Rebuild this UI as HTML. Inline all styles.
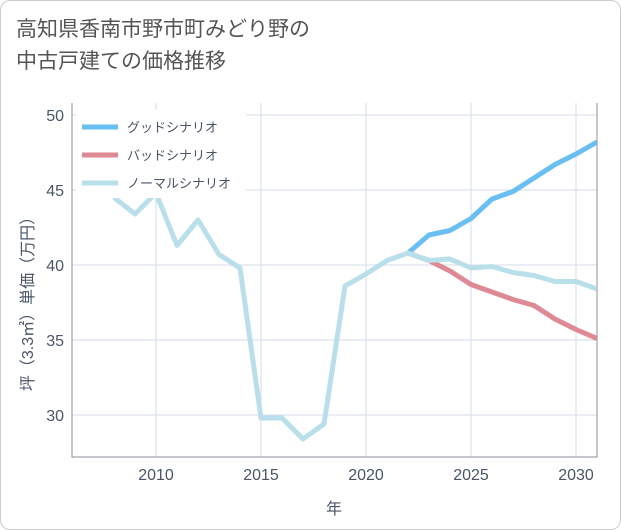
<!DOCTYPE html>
<html><head><meta charset="utf-8"><style>
body{margin:0;background:#fff;font-family:"Liberation Sans","Noto Sans CJK JP",sans-serif;}
#wrap{position:relative;width:621px;height:530px;}
#frame{position:absolute;left:0;top:0;width:619px;height:528px;border:1px solid #ccc;border-radius:10px;}
#title{position:absolute;left:16px;top:14px;font-size:21px;line-height:32px;color:#555;}
</style></head><body>
<div id="wrap">
<div id="frame"></div>
<div id="title">高知県香南市野市町みどり野の<br>中古戸建ての価格推移</div>
<svg id="chart" width="621" height="530" style="position:absolute;left:0;top:0"></svg>
</div>
<script>
const years=[2008,2009,2010,2011,2012,2013,2014,2015,2016,2017,2018,2019,2020,2021,2022,2023,2024,2025,2026,2027,2028,2029,2030,2031];
const normalValues=[44.5,43.4,44.8,41.3,43.0,40.7,39.8,29.8,29.8,28.4,29.4,38.6,39.4,40.3,40.8,40.3,40.4,39.8,39.9,39.5,39.3,38.9,38.9,38.4];
const forecastYears=[2022,2023,2024,2025,2026,2027,2028,2029,2030,2031];
const goodValues=[40.8,42.0,42.3,43.1,44.4,44.9,45.8,46.7,47.4,48.2];
const badValues=[40.8,40.3,39.6,38.7,38.2,37.7,37.3,36.4,35.7,35.1];
const xTicks=[2010,2015,2020,2025,2030];
const yTicks=[30,35,40,45,50];
const legendLabels=["グッドシナリオ","バッドシナリオ","ノーマルシナリオ"];
const colors=["#6abff2","#de8a94","#b9dfea"];

const L=72,R=597,T=103,B=457;
const xs=y=>L+(y-2006)*(R-L)/25;
const ys=v=>265-(v-40)*15;
const svg=document.getElementById('chart');
const NS='http://www.w3.org/2000/svg';
function mk(t,a){const e=document.createElementNS(NS,t);for(const k in a)e.setAttribute(k,a[k]);svg.appendChild(e);return e;}
for(const t of xTicks){const l=mk('line',{x1:xs(t),x2:xs(t),y1:T,y2:B,stroke:'#d5dde8'});


const tx=mk('text',{x:xs(t),y:480,'text-anchor':'middle','font-size':16,fill:'#4a5568'});tx.textContent=t;

}
for(const t of yTicks){const l=mk('line',{x1:L,x2:R,y1:ys(t),y2:ys(t),stroke:'#d5dde8'});


const tx=mk('text',{x:64,y:ys(t)+6,'text-anchor':'end','font-size':16,fill:'#4a5568'});tx.textContent=t;

}
const ax=mk('path',{d:`M${L},${T}V${B}H${R}V${T}`,fill:'none',stroke:'#8a9099'});


const xt=mk('text',{x:334,y:514,'text-anchor':'middle','font-size':16,fill:'#4a5568'});xt.textContent='年';


const yt=mk('text',{x:0,y:0,'text-anchor':'middle','font-size':16,fill:'#4a5568',transform:'translate(33,300) rotate(-90)'});yt.textContent='坪（3.3㎡）単価（万円）';


const cp=mk('clipPath',{id:'cp'});const cr=document.createElementNS(NS,'rect');
cr.setAttribute('x',L);cr.setAttribute('y',T);cr.setAttribute('width',R-L);cr.setAttribute('height',B-T);cp.appendChild(cr);
function line(xv,yv,c,name){const p=mk('polyline',{points:xv.map((x,i)=>xs(x)+','+ys(yv[i])).join(' '),fill:'none',stroke:c,'stroke-width':5,'stroke-linejoin':'round','clip-path':'url(#cp)'});

}
line(forecastYears,goodValues,colors[0],'good-scenario-line');
line(forecastYears,badValues,colors[1],'bad-scenario-line');
line(years,normalValues,colors[2],'normal-scenario-line');
const lg=mk('rect',{x:76,y:110,width:170,height:88,fill:'#fff'});


legendLabels.forEach((s,i)=>{const y=127+i*28;
const l=mk('line',{x1:82,x2:118,y1:y,y2:y,stroke:colors[i],'stroke-width':5});


const t=mk('text',{x:127,y:y+5,'font-size':13,fill:'#4a5568'});t.textContent=s;

});
</script>
</body></html>
